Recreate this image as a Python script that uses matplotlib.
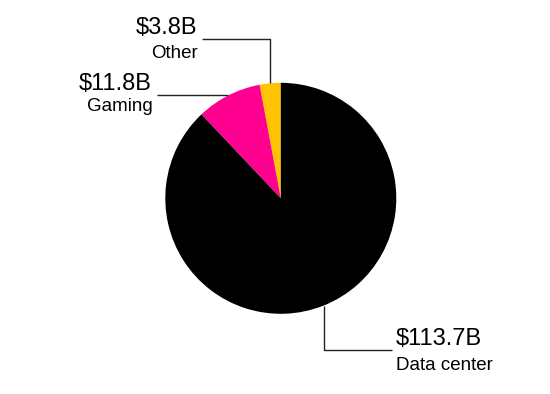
import numpy as np
import matplotlib.pyplot as plt

plt.rcParams['font.family'] = ['Liberation Sans', 'DejaVu Sans']

# Revenue by segment, starting at 12 o'clock and going counterclockwise
segments = ['Other', 'Gaming', 'Data center']
values = [3.8, 11.8, 113.7]
value_labels = ['$3.8B', '$11.8B', '$113.7B']
colors = ['#ffc300', '#ff0090', '#000000']

W, H = 550, 394
fig = plt.figure(figsize=(W / 100, H / 100), dpi=100)
ax = fig.add_axes([0, 0, 1, 1])

cx, cy, r = 280.8, H - 198.3, 115.5
wedges, _ = ax.pie(values, colors=colors, startangle=90, counterclock=True,
                   center=(cx, cy), radius=r, frame=True,
                   wedgeprops=dict(linewidth=0))
ax.set_xlim(0, W)
ax.set_ylim(0, H)
ax.set_aspect('equal')
ax.axis('off')

line_kw = dict(color='#222222', lw=1.0, solid_capstyle='butt')
val_fs, cat_fs = 17, 13.5


def anchor(w):
    mid = np.deg2rad((w.theta1 + w.theta2) / 2)
    return cx + r * np.cos(mid), cy + r * np.sin(mid)


# Other: up then left
x0, y0 = anchor(wedges[0])
ly = H - 39
ax.plot([x0, x0, 201.5], [y0, ly, ly], **line_kw)
ax.text(197, H - 34, value_labels[0], ha='right', va='baseline', fontsize=val_fs)
ax.text(197.5, H - 58, segments[0], ha='right', va='baseline', fontsize=cat_fs)

# Gaming: straight left
x0, y0 = anchor(wedges[1])
ax.plot([x0, 157], [y0, y0], **line_kw)
ax.text(152, H - 90, value_labels[1], ha='right', va='baseline', fontsize=val_fs)
ax.text(152.5, H - 111, segments[1], ha='right', va='baseline', fontsize=cat_fs)

# Data center: down then right
x0, y0 = anchor(wedges[2])
ly = H - 350
ax.plot([x0, x0, 392], [y0, ly, ly], **line_kw)
ax.text(396, H - 345, value_labels[2], ha='left', va='baseline', fontsize=val_fs)
ax.text(396, H - 370, segments[2], ha='left', va='baseline', fontsize=cat_fs)

fig.savefig('out.png', dpi=100, facecolor='white')
